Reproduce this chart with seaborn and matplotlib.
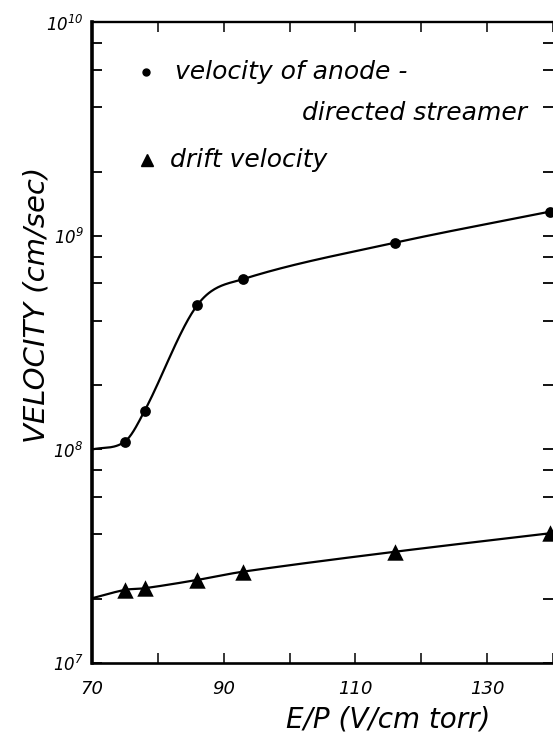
import numpy as np
import pandas as pd
import matplotlib
matplotlib.use("Agg")
import matplotlib.pyplot as plt
import seaborn as sns

# E/P values (V/cm torr) at which both velocities were measured
ep = [75, 78, 86, 93, 116, 139.5]
# velocity of the anode-directed streamer (cm/sec)
streamer_velocity = [1.09e8, 1.52e8, 4.75e8, 6.29e8, 9.3e8, 1.30e9]
# electron drift velocity (cm/sec)
drift_velocity = [2.20e7, 2.24e7, 2.45e7, 2.68e7, 3.32e7, 4.05e7]
# where the hand-fitted curves meet the left axis (E/P = 70)
curve_start_ep = 70
streamer_curve_start = 1.0e8
drift_curve_start = 2.01e7

x_ticks = [70, 80, 90, 100, 110, 120, 130, 140]
x_tick_labels = ["70", "", "90", "", "110", "", "130", ""]
y_ticks = [1e7, 1e8, 1e9, 1e10]
y_tick_labels = [r"$10^{7}$", r"$10^{8}$", r"$10^{9}$", r"$10^{10}$"]


def smooth_through(x, y, xs):
    """Cardinal (Catmull-Rom) Hermite curve through the knots (x, y)."""
    x = np.asarray(x, float)
    y = np.asarray(y, float)
    n = len(x)
    h = np.diff(x)
    d = np.diff(y) / h
    m = np.empty(n)
    m[1:-1] = (y[2:] - y[:-2]) / (x[2:] - x[:-2])
    m[0] = d[0]
    m[-1] = d[-1]
    idx = np.clip(np.searchsorted(x, xs) - 1, 0, n - 2)
    t = (xs - x[idx]) / h[idx]
    h00 = 2 * t**3 - 3 * t**2 + 1
    h10 = t**3 - 2 * t**2 + t
    h01 = -2 * t**3 + 3 * t**2
    h11 = t**3 - t**2
    return (h00 * y[idx] + h10 * h[idx] * m[idx]
            + h01 * y[idx + 1] + h11 * h[idx] * m[idx + 1])


def smooth_curve(x0, v0, xs, vs):
    kx = [x0] + list(xs)
    ky = np.log10([v0] + list(vs))
    grid = np.linspace(kx[0], kx[-1] + 0.6, 400)
    return pd.DataFrame({"ep": grid, "v": 10 ** smooth_through(kx, ky, grid)})


sns.set_theme(style="white")
plt.rcParams["font.family"] = ["DejaVu Sans"]
plt.rcParams["mathtext.fontset"] = "custom"
plt.rcParams["mathtext.rm"] = "DejaVu Sans:italic"
plt.rcParams["mathtext.it"] = "DejaVu Sans:italic"

fig = plt.figure(figsize=(5.53, 7.38), dpi=100)
ax = fig.add_axes([92 / 553, 1 - 663 / 738, 1 - 92 / 553, (663 - 22.5) / 738])

points = pd.DataFrame({"ep": ep, "streamer": streamer_velocity,
                       "drift": drift_velocity})

streamer_curve = smooth_curve(curve_start_ep, streamer_curve_start, ep, streamer_velocity)
drift_curve = smooth_curve(curve_start_ep, drift_curve_start, ep, drift_velocity)

sns.lineplot(data=streamer_curve, x="ep", y="v", ax=ax, color="black",
             linewidth=1.6, sort=False, estimator=None)
sns.lineplot(data=drift_curve, x="ep", y="v", ax=ax, color="black",
             linewidth=1.6, sort=False, estimator=None)
sns.scatterplot(data=points, x="ep", y="streamer", ax=ax, marker="o",
                s=60, color="black", edgecolor="black", linewidth=0, zorder=5)
sns.scatterplot(data=points, x="ep", y="drift", ax=ax, marker="^",
                s=140, color="black", edgecolor="black", linewidth=0, zorder=5)

ax.set_yscale("log")
ax.set_xlim(70, 140)
ax.set_ylim(1e7, 1e10)

ax.set_xticks(x_ticks)
ax.set_xticklabels(x_tick_labels, fontsize=13, fontstyle="italic")
ax.set_yticks(y_ticks)
ax.set_yticklabels(y_tick_labels, fontsize=12)
minor = [m * 10.0**e for e in (7, 8, 9) for m in (2, 4, 6, 8)]
ax.set_yticks(minor, minor=True)
ax.yaxis.set_minor_formatter(matplotlib.ticker.NullFormatter())
ax.xaxis.set_minor_locator(matplotlib.ticker.NullLocator())

ax.tick_params(axis="x", which="major", direction="in", length=7, width=1.1,
               color="black", top=True, bottom=True, pad=12, labelcolor="black")
ax.tick_params(axis="y", which="both", direction="in", length=7, width=1.3,
               color="black", left=True, right=True, pad=6, labelcolor="black")

for side, lw in (("left", 2.6), ("bottom", 1.9), ("top", 1.7)):
    ax.spines[side].set_visible(True)
    ax.spines[side].set_color("black")
    ax.spines[side].set_linewidth(lw)
ax.spines["right"].set_visible(False)

ax.set_xlabel("E/P (V/cm torr)", fontsize=20, fontstyle="italic",
              fontweight="light", color="black")
ax.xaxis.set_label_coords(0.642, -0.066)
ax.set_ylabel("VELOCITY (cm/sec)", fontsize=21, fontstyle="italic",
              fontweight="light", color="black")
ax.yaxis.set_label_coords(-0.09, 0.559)

# key
key = dict(fontsize=18, fontstyle="italic", fontweight="light",
           color="black", transform=ax.transAxes, va="center")
ax.plot([0.117], [0.923], marker="o", markersize=5, color="black",
        transform=ax.transAxes, clip_on=False)
ax.text(0.180, 0.923, "velocity of anode -", ha="left", **key)
ax.text(0.944, 0.858, "directed streamer", ha="right", **key)
ax.plot([0.119], [0.786], marker="^", markersize=9, color="black",
        transform=ax.transAxes, clip_on=False)
ax.text(0.169, 0.786, "drift velocity", ha="left", **key)

fig.savefig("out.png", dpi=100)
